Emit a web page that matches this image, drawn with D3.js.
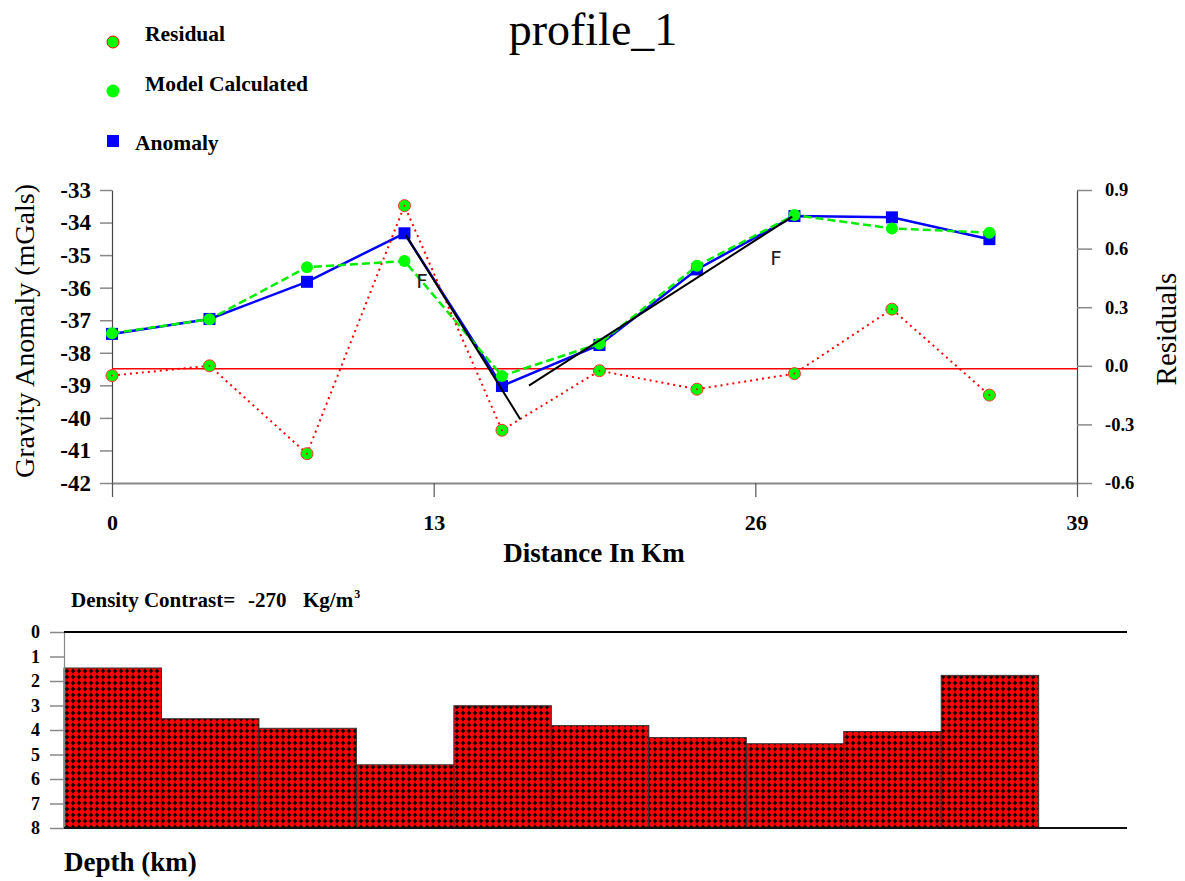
<!DOCTYPE html>
<html>
<head>
<meta charset="utf-8">
<script src="https://cdn.jsdelivr.net/npm/d3@7"></script>
<style>
  html, body { margin: 0; padding: 0; background: #fff; }
  svg { display: block; }
</style>
</head>
<body>
<div id="chart"></div>
<script>
// --- station data ---
const distanceKm = [0, 3.94, 7.88, 11.82, 15.76, 19.7, 23.64, 27.58, 31.52, 35.46];
const anomaly = [-37.42, -36.96, -35.82, -34.33, -39.02, -37.76, -35.44, -33.8, -33.84, -34.51];
const modelCalculated = [-37.4, -36.97, -35.37, -35.18, -38.71, -37.72, -35.33, -33.77, -34.18, -34.31];
const residuals = [-0.05, 0.0, -0.45, 0.82, -0.33, -0.025, -0.12, -0.04, 0.29, -0.15];

// depth to top of each prism (km), prisms centred on the stations
const blockDepth = [1.47, 3.54, 3.93, 5.42, 3.01, 3.82, 4.31, 4.56, 4.06, 1.77];
const blockHalfWidth = 1.97;

// fault traces drawn on the anomaly plot
const faultLines = [
  { x1: 11.87, y1: -34.38, x2: 16.5, y2: -40.04 },
  { x1: 16.85, y1: -39.01, x2: 27.49, y2: -33.82 },
];
const faultLabels = [
  { x: 12.3, y: -36.0, text: "F" },
  { x: 26.6, y: -35.3, text: "F" },
];

// ticks
const distanceTicks = [0, 13, 26, 39];
const gravityTicks = [-33, -34, -35, -36, -37, -38, -39, -40, -41, -42];
const residualTicks = [0.9, 0.6, 0.3, 0.0, -0.3, -0.6];
const depthTicks = [0, 1, 2, 3, 4, 5, 6, 7, 8];

const SERIF = "'Liberation Serif', 'Times New Roman', serif";
const width = 1185, height = 881;

const svg = d3.select("#chart")
  .append("svg")
  .attr("width", width)
  .attr("height", height);

// pattern for the prisms: red with small black crosses
const defs = svg.append("defs");
const pat = defs.append("pattern")
  .attr("id", "cross")
  .attr("patternUnits", "userSpaceOnUse")
  .attr("x", 64)
  .attr("y", 668)
  .attr("width", 6)
  .attr("height", 6);
pat.append("rect").attr("width", 6).attr("height", 6).attr("fill", "#ff0000");
pat.append("path")
  .attr("d", "M3,0.8V5.2M0.8,3H5.2")
  .attr("stroke", "#000")
  .attr("stroke-width", 1.4);

// --- scales ---
const x = d3.scaleLinear().domain([0, 39]).range([112, 1077]);
const yGrav = d3.scaleLinear().domain([-42, -33]).range([483, 190]);
const yRes = d3.scaleLinear().domain([-0.6, 0.9]).range([483, 190]);

const xb = d3.scaleLinear().domain([-1.97, 41]).range([64, 1127]);
const yDepth = d3.scaleLinear().domain([0, 8]).range([632, 828]);

const label = (sel, size, bold) =>
  sel.style("font-family", SERIF)
    .style("font-size", size)
    .style("font-weight", bold ? "bold" : "normal")
    .attr("fill", "#000");

// --- title ---
svg.append("text")
  .attr("x", 593)
  .attr("y", 45)
  .attr("text-anchor", "middle")
  .call(label, "46px", false)
  .text("profile_1");

// --- legend ---
const legend = svg.append("g");
legend.append("circle").attr("cx", 113).attr("cy", 42).attr("r", 6)
  .attr("fill", "#00ff00").attr("stroke", "#ff0000").attr("stroke-width", 1);
legend.append("text").attr("x", 145).attr("y", 41).text("Residual")
  .call(label, "21.5px", true);
legend.append("circle").attr("cx", 113).attr("cy", 91).attr("r", 6.5)
  .attr("fill", "#00ff00");
legend.append("text").attr("x", 145).attr("y", 91).text("Model Calculated")
  .call(label, "21.5px", true);
legend.append("rect").attr("x", 107).attr("y", 135).attr("width", 12).attr("height", 12)
  .attr("fill", "#0000ff");
legend.append("text").attr("x", 135).attr("y", 150).text("Anomaly")
  .call(label, "21.5px", true);

// --- anomaly plot axes ---
const styleAxis = (g, fontSize) => {
  g.attr("font-family", null);
  g.select(".domain").attr("stroke", "#444").attr("stroke-width", 1.2);
  g.selectAll(".tick line").attr("stroke", "#888").attr("stroke-width", 1.5);
  g.selectAll(".tick text").call(label, fontSize, true);
};

svg.append("g")
  .attr("transform", `translate(${x(0)},0)`)
  .call(d3.axisLeft(yGrav).tickValues(gravityTicks).tickSize(12).tickSizeOuter(0)
    .tickPadding(9).tickFormat((d) => String(d)))
  .call((g) => styleAxis(g, "23px"));

svg.append("g")
  .attr("transform", `translate(${x(39)},0)`)
  .call(d3.axisRight(yRes).tickValues(residualTicks).tickSize(15).tickSizeOuter(0)
    .tickPadding(13).tickFormat((d) => d.toFixed(1)))
  .call((g) => styleAxis(g, "18.5px"));

svg.append("g")
  .attr("transform", `translate(0,${yGrav(-42)})`)
  .call(d3.axisBottom(x).tickValues(distanceTicks).tickSize(14).tickSizeOuter(0)
    .tickPadding(17).tickFormat((d) => String(d)))
  .call((g) => styleAxis(g, "22px"))
  .call((g) => g.select(".domain").attr("stroke", "#888").attr("stroke-width", 2))
  .call((g) => g.selectAll(".tick line").attr("stroke", "#555").attr("stroke-width", 1.2));

svg.append("text")
  .attr("transform", `translate(34,331) rotate(-90)`)
  .attr("text-anchor", "middle")
  .call(label, "28px", false)
  .text("Gravity Anomaly (mGals)");

svg.append("text")
  .attr("transform", `translate(1176,329) rotate(-90)`)
  .attr("text-anchor", "middle")
  .call(label, "29px", false)
  .text("Residuals");

svg.append("text")
  .attr("x", 594)
  .attr("y", 562)
  .attr("text-anchor", "middle")
  .call(label, "27px", true)
  .text("Distance In Km");

// --- zero residual line ---
svg.append("line")
  .attr("x1", x(0)).attr("x2", x(39))
  .attr("y1", yRes(0) + 3).attr("y2", yRes(0) + 3)
  .attr("stroke", "#ff0000")
  .attr("stroke-width", 1.5);

const stations = distanceKm.map((d, i) => ({
  d, anomaly: anomaly[i], model: modelCalculated[i], residual: residuals[i],
}));

// anomaly (blue, solid, squares)
svg.append("path")
  .datum(stations)
  .attr("fill", "none")
  .attr("stroke", "#0000ff")
  .attr("stroke-width", 2.5)
  .attr("d", d3.line().x((s) => x(s.d)).y((s) => yGrav(s.anomaly)));
svg.append("g")
  .selectAll("rect")
  .data(stations)
  .join("rect")
  .attr("x", (s) => x(s.d) - 6)
  .attr("y", (s) => yGrav(s.anomaly) - 6)
  .attr("width", 12)
  .attr("height", 12)
  .attr("fill", "#0000ff");

// model calculated (green, dashed, circles)
svg.append("path")
  .datum(stations)
  .attr("fill", "none")
  .attr("stroke", "#00ee00")
  .attr("stroke-width", 2.5)
  .attr("stroke-dasharray", "8,4")
  .attr("d", d3.line().x((s) => x(s.d)).y((s) => yGrav(s.model)));
svg.append("g")
  .selectAll("circle")
  .data(stations)
  .join("circle")
  .attr("cx", (s) => x(s.d))
  .attr("cy", (s) => yGrav(s.model))
  .attr("r", 6)
  .attr("fill", "#00ff00");

// residuals (red, dotted, green circles with red edge)
svg.append("path")
  .datum(stations)
  .attr("fill", "none")
  .attr("stroke", "#ff0000")
  .attr("stroke-width", 2)
  .attr("stroke-dasharray", "2,4")
  .attr("d", d3.line().x((s) => x(s.d)).y((s) => yRes(s.residual)));
svg.append("g")
  .selectAll("circle")
  .data(stations)
  .join("circle")
  .attr("cx", (s) => x(s.d))
  .attr("cy", (s) => yRes(s.residual))
  .attr("r", 6)
  .attr("fill", "#00ff00")
  .attr("stroke", "#ff3030")
  .attr("stroke-width", 1);
svg.append("g")
  .selectAll("circle")
  .data(stations)
  .join("circle")
  .attr("cx", (s) => x(s.d))
  .attr("cy", (s) => yRes(s.residual))
  .attr("r", 1)
  .attr("fill", "#ff0000");

// faults
svg.append("g")
  .selectAll("line")
  .data(faultLines)
  .join("line")
  .attr("x1", (f) => x(f.x1))
  .attr("y1", (f) => yGrav(f.y1))
  .attr("x2", (f) => x(f.x2))
  .attr("y2", (f) => yGrav(f.y2))
  .attr("stroke", "#000")
  .attr("stroke-width", 2);
svg.append("g")
  .selectAll("text")
  .data(faultLabels)
  .join("text")
  .attr("x", (f) => x(f.x))
  .attr("y", (f) => yGrav(f.y))
  .style("font-family", "'DejaVu Sans', sans-serif")
  .style("font-size", "20px")
  .attr("fill", "#222")
  .text((f) => f.text);

// --- density model panel ---
const dc = svg.append("text")
  .attr("y", 607)
  .call(label, "21px", true);
dc.append("tspan").attr("x", 71).text("Density Contrast=");
dc.append("tspan").attr("x", 248).text("-270");
dc.append("tspan").attr("x", 303).text("Kg/m");
dc.append("tspan").attr("dx", 1).attr("dy", -9).style("font-size", "12px").text("3");

svg.append("g")
  .selectAll("rect")
  .data(blockDepth)
  .join("rect")
  .attr("x", (dep, i) => xb(distanceKm[i] - blockHalfWidth))
  .attr("y", (dep) => yDepth(dep))
  .attr("width", (dep, i) => xb(distanceKm[i] + blockHalfWidth) - xb(distanceKm[i] - blockHalfWidth))
  .attr("height", (dep) => yDepth(8) - yDepth(dep))
  .attr("fill", "url(#cross)")
  .attr("stroke", "#333")
  .attr("stroke-width", 1);

svg.append("g")
  .attr("transform", `translate(${xb.range()[0]},0)`)
  .call(d3.axisLeft(yDepth).tickValues(depthTicks).tickSize(14).tickSizeOuter(0)
    .tickPadding(10).tickFormat((d) => String(d)))
  .call((g) => styleAxis(g, "18px"))
  .call((g) => g.select(".domain").attr("stroke", "#888"));

svg.append("line")
  .attr("x1", xb.range()[0]).attr("x2", xb.range()[1])
  .attr("y1", yDepth(0)).attr("y2", yDepth(0))
  .attr("stroke", "#000").attr("stroke-width", 2);
svg.append("line")
  .attr("x1", xb.range()[0]).attr("x2", xb.range()[1])
  .attr("y1", yDepth(8)).attr("y2", yDepth(8))
  .attr("stroke", "#111").attr("stroke-width", 2.2);

svg.append("text")
  .attr("x", 64)
  .attr("y", 871)
  .call(label, "27px", true)
  .text("Depth (km)");
</script>
</body>
</html>
